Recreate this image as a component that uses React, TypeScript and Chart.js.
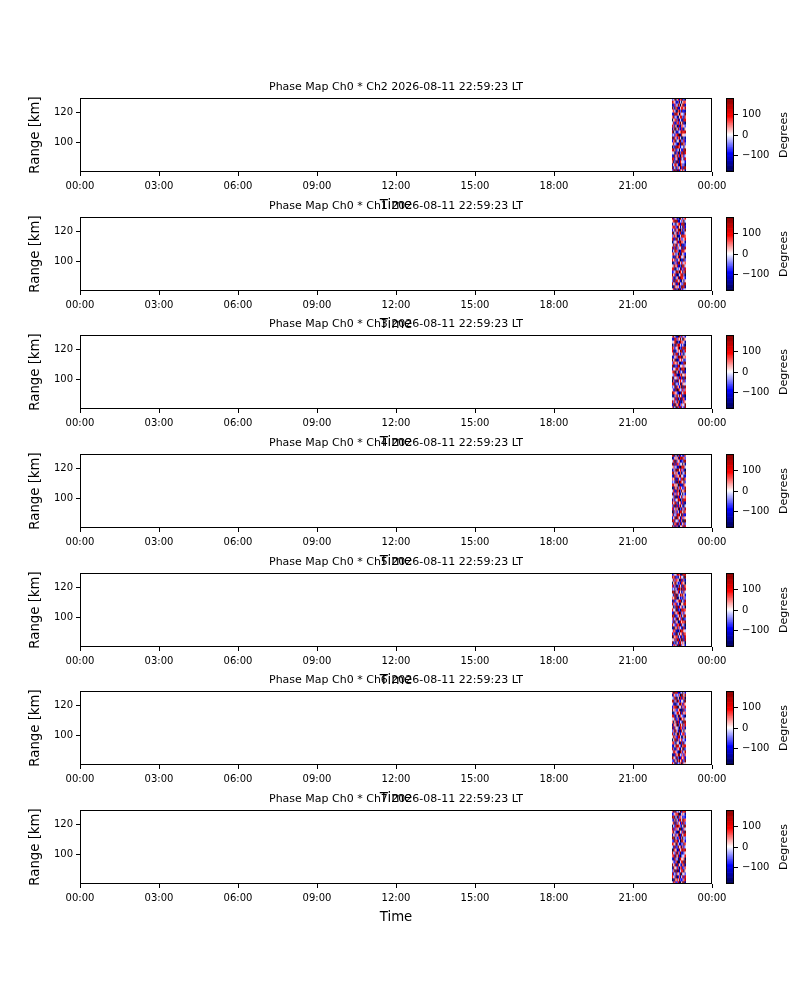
import React, { useEffect, useRef } from "react";
import { Chart, registerables } from "chart.js";

Chart.register(...registerables);
Chart.defaults.font.family = "'DejaVu Sans', sans-serif";
Chart.defaults.color = "#000";

// ---------------- data ----------------
const channels = ["Ch2", "Ch1", "Ch3", "Ch4", "Ch5", "Ch6", "Ch7"];
const timestampLabel = "2026-08-11 22:59:23 LT";

const xTickHours = [0, 3, 6, 9, 12, 15, 18, 21, 24];
const xTickLabels = ["00:00", "03:00", "06:00", "09:00", "12:00", "15:00", "18:00", "21:00", "00:00"];
const rangeTicks = [100, 120];
const rangeMin = 80;
const rangeMax = 129.5;
const phaseTicks = [-100, 0, 100];
const phaseMin = -180;
const phaseMax = 180;

// column start times (minutes after midnight) and end of last column
const colStartMin = [1349, 1351.6, 1354.2, 1356.8, 1359.3, 1361.9, 1364.5, 1367.1, 1369.7, 1372.2, 1374.8, 1377.4];
const colEndMin = 1380;
// range bin starts (km), bin size 2 km
const rowStartKm = [80, 82, 84, 86, 88, 90, 92, 94, 96, 98, 100, 102, 104, 106, 108, 110, 112, 114, 116, 118, 120, 122, 124, 126, 128];
const rowStepKm = 2;
// digit code -> phase in degrees
const phaseLevels = [-180, -140, -100, -60, -20, 20, 60, 100, 140, 180];

const phaseCh2 = [
  "380719264851", "925036417298", "147852096330", "603918275442", "872460193517",
  "219583706624", "450261938807", "796134052289", "031897624415", "584320719963",
  "268045193372", "917526840031", "342679018554", "805213469778", "160948327205",
  "739502816643", "482167395920", "056839241187", "693420578316", "218975064439",
  "574106839221", "930682157748", "127349605892", "865213940576", "349057268130",
];
const phaseCh1 = [
  "572930816244", "108465239971", "846127053398", "391784620515", "620358197742",
  "957201468830", "234896075169", "781043592627", "469572130884", "013628947356",
  "758314602193", "302957184460", "685240719532", "149763028875", "827036451928",
  "496185370213", "035472896641", "712894063357", "368501249786", "904617382025",
  "251748906139", "687329514072", "143056728891", "579982143604", "826413095257",
];
const phaseCh3 = [
  "614093782528", "290857136449", "837416920375", "458270391862", "103694857210",
  "976532018487", "521809643736", "349175260918", "780342591654", "062918475383",
  "915463827029", "437820169546", "689051734192", "254796318870", "801327945635",
  "376584102289", "948012657413", "125639870956", "593871426304", "710246598137",
  "862457031798", "039168742520", "457903186641", "218736594085", "694120837352",
];
const phaseCh4 = [
  "839261054717", "406718392583", "971543826009", "258096417365", "614387950822",
  "093625178496", "725849031638", "380172695204", "847930562711", "162458703987",
  "539017248356", "926374815042", "471286039569", "018593674238", "785640921175",
  "342907186493", "659128437806", "207365894512", "894751260349", "136089573620",
  "563412908784", "918276345051", "470935612398", "025648179863", "791503824216",
];
const phaseCh5 = [
  "267418093552", "913052784640", "548397160928", "085761429317", "732904856186",
  "476120397854", "109583642071", "853276918430", "391640285769", "624819537013",
  "970235861498", "218467093625", "745092318876", "503981746240", "836724105597",
  "192356870428", "659810423163", "417093586952", "980647251384", "341528960717",
  "726103849296", "058942317650", "483765092831", "869231574409", "235487610978",
];
const phaseCh6 = [
  "751924360845", "328406957139", "964183027572", "102759843626", "487531096258",
  "830264715903", "215978430687", "673045192814", "049816357342", "596327840159",
  "831590624773", "360742918405", "928453076261", "174609385937", "605817243098",
  "459236107584", "782051964320", "013478592846", "946325710183", "267890451637",
  "520134896275", "893607325419", "438915072860", "175243609948", "609782134052",
];
const phaseCh7 = [
  "486237105991", "019574832368", "753902614827", "824165390453", "360819247705",
  "195473068236", "947028531681", "532690147819", "208341975560", "671958203447",
  "843706392135", "096512847978", "418239560624", "765084213396", "329671408852",
  "980523716043", "153847029487", "694210853719", "827365190264", "042798631508",
  "581936427173", "316052784986", "970418365232", "235769014641", "608143592878",
];
const phaseMaps = [phaseCh2, phaseCh1, phaseCh3, phaseCh4, phaseCh5, phaseCh6, phaseCh7];

// ---------------- layout ----------------
const panelTops = [98, 217, 335, 454, 573, 691, 810];
const FONT_TICK = 10;
const FONT_LABEL = 13.3;
const FONT_TITLE = 11;

// matplotlib "seismic" colormap
function seismic(deg: number): string {
  const t = Math.min(1, Math.max(0, (deg - phaseMin) / (phaseMax - phaseMin)));
  const stops = [
    [0, 0, 0, 0.3],
    [0.25, 0, 0, 1],
    [0.5, 1, 1, 1],
    [0.75, 1, 0, 0],
    [1, 0.5, 0, 0],
  ];
  let i = 0;
  while (i < stops.length - 2 && t > stops[i + 1][0]) i++;
  const a = stops[i], b = stops[i + 1];
  const f = (t - a[0]) / (b[0] - a[0]);
  const c = [1, 2, 3].map((k) => Math.round(255 * (a[k] + (b[k] - a[k]) * f)));
  return `rgb(${c[0]},${c[1]},${c[2]})`;
}

const framePlugin = {
  id: "frame",
  afterDraw(chart: any) {
    const { ctx, chartArea: a } = chart;
    ctx.save();
    ctx.strokeStyle = "#000";
    ctx.lineWidth = 1;
    ctx.strokeRect(Math.round(a.left) + 0.5, Math.round(a.top) + 0.5, Math.round(a.width) - 1, Math.round(a.height) - 1);
    ctx.restore();
  },
};

function makeHeatPlugin(grid: string[]) {
  return {
    id: "heat",
    beforeDatasetsDraw(chart: any) {
      const { ctx, chartArea: a, scales } = chart;
      const xs = scales.x, ys = scales.y;
      ctx.save();
      ctx.beginPath();
      ctx.rect(a.left, a.top, a.width, a.height);
      ctx.clip();
      grid.forEach((row, r) => {
        const yb = ys.getPixelForValue(rowStartKm[r]);
        const yt = ys.getPixelForValue(rowStartKm[r] + rowStepKm);
        for (let c = 0; c < row.length; c++) {
          const t0 = colStartMin[c];
          const t1 = c + 1 < colStartMin.length ? colStartMin[c + 1] : colEndMin;
          const x0 = xs.getPixelForValue(t0);
          const x1 = xs.getPixelForValue(t1);
          ctx.fillStyle = seismic(phaseLevels[Number(row[c])]);
          ctx.fillRect(x0, yt, x1 - x0 + 0.3, yb - yt + 0.3);
        }
      });
      ctx.restore();
    },
  };
}

function makeTitlePlugin(text: string) {
  return {
    id: "panelTitle",
    afterDraw(chart: any) {
      const { ctx, chartArea: a } = chart;
      ctx.save();
      ctx.fillStyle = "#000";
      ctx.font = `${FONT_TITLE}px 'DejaVu Sans', sans-serif`;
      ctx.textAlign = "center";
      ctx.textBaseline = "middle";
      ctx.fillText(text, (a.left + a.right) / 2, a.top - 11);
      ctx.restore();
    },
  };
}

const degreesPlugin = {
  id: "degrees",
  afterDraw(chart: any) {
    const { ctx, chartArea: a } = chart;
    ctx.save();
    ctx.fillStyle = "#000";
    ctx.font = `11px 'DejaVu Sans', sans-serif`;
    ctx.textAlign = "center";
    ctx.textBaseline = "middle";
    ctx.translate(chart.width - 16, (a.top + a.bottom) / 2);
    ctx.rotate(-Math.PI / 2);
    ctx.fillText("Degrees", 0, 0);
    ctx.restore();
  },
};

const colorSegments = (() => {
  const segs: { lo: number; hi: number; color: string }[] = [];
  const n = 90;
  const step = (phaseMax - phaseMin) / n;
  for (let i = 0; i < n; i++) {
    const lo = phaseMin + i * step;
    segs.push({ lo, hi: lo + step, color: seismic(lo + step / 2) });
  }
  return segs;
})();

const tickGrid = { drawOnChartArea: false, drawTicks: true, tickLength: 4, color: "#000", lineWidth: 1 };

function Panel({ index }: { index: number }) {
  const mainRef = useRef<HTMLCanvasElement>(null);
  const barRef = useRef<HTMLCanvasElement>(null);

  useEffect(() => {
    const main = new Chart(mainRef.current as HTMLCanvasElement, {
      type: "scatter",
      data: { datasets: [{ data: [] }] },
      options: {
        animation: false,
        responsive: false,
        devicePixelRatio: 1,
        events: [],
        layout: { padding: { top: 30, right: 20, bottom: 0, left: 0 } },
        plugins: { legend: { display: false }, tooltip: { enabled: false } },
        scales: {
          x: {
            type: "linear",
            min: 0,
            max: 1440,
            afterBuildTicks: (s: any) => {
              s.ticks = xTickHours.map((h) => ({ value: h * 60 }));
            },
            afterFit: (s: any) => {
              s.height = 42;
            },
            ticks: {
              font: { size: FONT_TICK },
              padding: 4,
              maxRotation: 0,
              autoSkip: false,
              callback: (v: any) => xTickLabels[xTickHours.indexOf(Number(v) / 60)],
            },
            grid: tickGrid,
            border: { display: false },
            title: { display: true, text: "Time", font: { size: FONT_LABEL }, padding: 0 },
          },
          y: {
            type: "linear",
            min: rangeMin,
            max: rangeMax,
            afterBuildTicks: (s: any) => {
              s.ticks = rangeTicks.map((v) => ({ value: v }));
            },
            afterFit: (s: any) => {
              s.width = 80;
            },
            ticks: { font: { size: FONT_TICK }, padding: 3 },
            grid: tickGrid,
            border: { display: false },
            title: {
              display: true,
              text: "Range [km]",
              font: { size: FONT_LABEL },
              padding: { top: 28, bottom: 0 },
            },
          },
        },
      } as any,
      plugins: [
        makeHeatPlugin(phaseMaps[index]),
        framePlugin,
        makeTitlePlugin(`Phase Map Ch0 * ${channels[index]} ${timestampLabel}`),
      ],
    });

    const bar = new Chart(barRef.current as HTMLCanvasElement, {
      type: "bar",
      data: {
        labels: ["phase"],
        datasets: colorSegments.map((seg) => ({
          data: [[seg.lo, seg.hi]] as any,
          backgroundColor: seg.color,
          grouped: false,
          barPercentage: 1,
          categoryPercentage: 1,
          borderWidth: 0,
        })),
      },
      options: {
        animation: false,
        responsive: false,
        devicePixelRatio: 1,
        events: [],
        layout: { padding: { top: 10, right: 0, bottom: 10, left: 6 } },
        plugins: { legend: { display: false }, tooltip: { enabled: false } },
        scales: {
          x: { display: false },
          y: {
            position: "right",
            min: phaseMin,
            max: phaseMax,
            afterBuildTicks: (s: any) => {
              s.ticks = phaseTicks.map((v) => ({ value: v }));
            },
            afterFit: (s: any) => {
              s.width = 66;
            },
            ticks: {
              font: { size: FONT_TICK },
              padding: 4,
              callback: (v: any) => (Number(v) < 0 ? "\u2212" + Math.abs(Number(v)) : String(v)),
            },
            grid: tickGrid,
            border: { display: false },
          },
        },
      } as any,
      plugins: [framePlugin, degreesPlugin],
    });

    return () => {
      main.destroy();
      bar.destroy();
    };
  }, [index]);

  const top = panelTops[index];
  return (
    <>
      <canvas
        ref={mainRef}
        width={732}
        height={146}
        style={{ position: "absolute", left: 0, top: top - 30, width: 732, height: 146 }}
      />
      <canvas
        ref={barRef}
        width={80}
        height={94}
        style={{ position: "absolute", left: 720, top: top - 10, width: 80, height: 94 }}
      />
    </>
  );
}

export default function App() {
  return (
    <div style={{ position: "absolute", left: 0, top: 0, width: 800, height: 982, background: "#fff" }}>
      {channels.map((_, i) => (
        <Panel key={i} index={i} />
      ))}
    </div>
  );
}
